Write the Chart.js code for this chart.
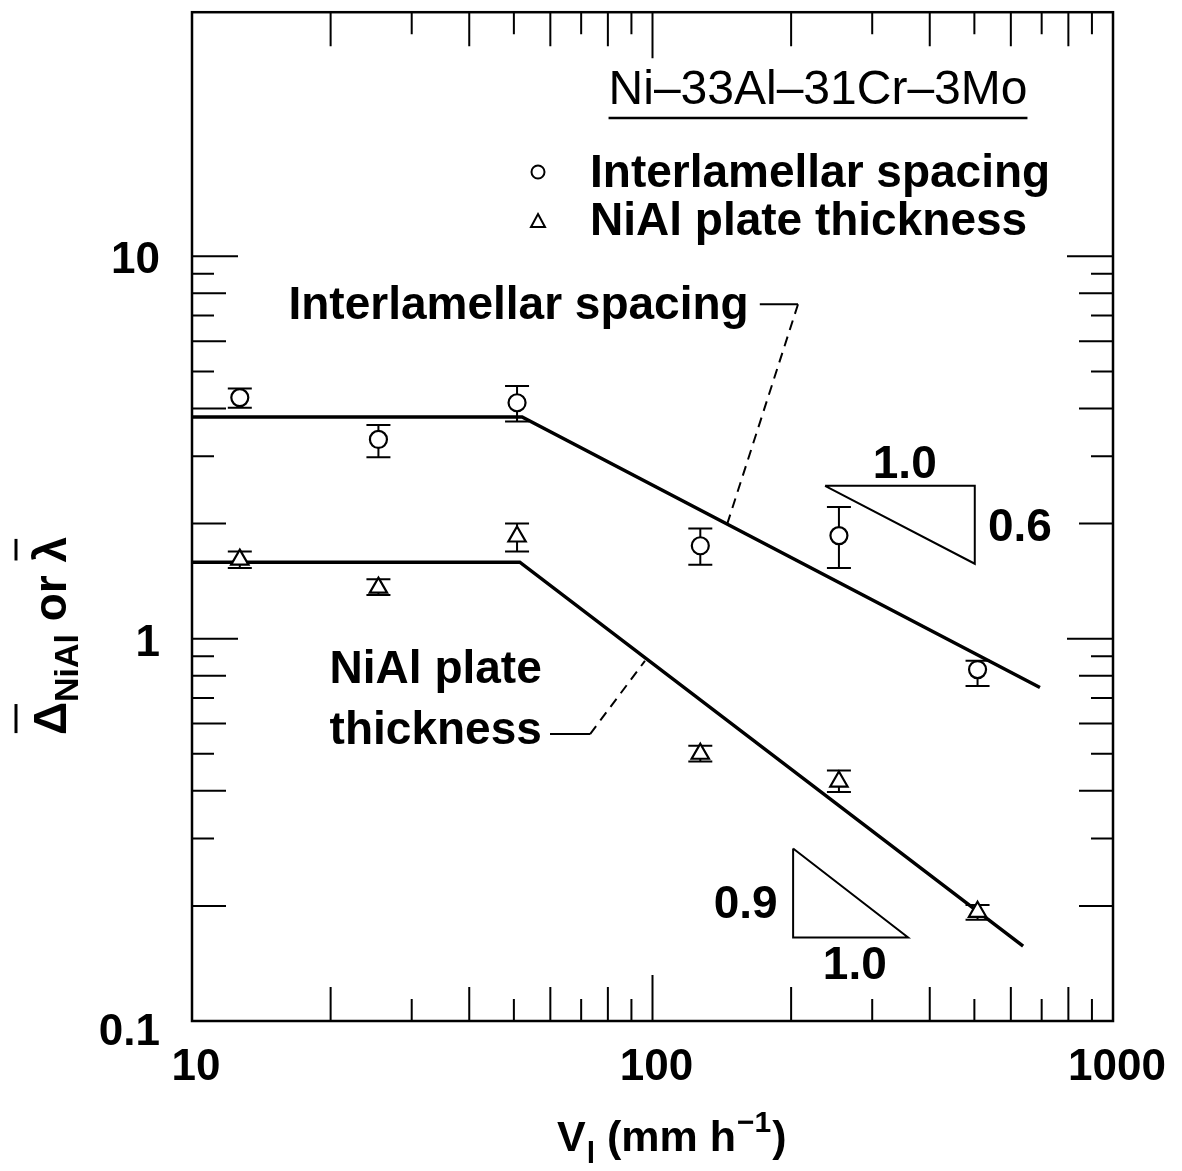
<!DOCTYPE html>
<html>
<head>
<meta charset="utf-8">
<script src="https://cdn.jsdelivr.net/npm/chart.js@4.4.1/dist/chart.umd.min.js"></script>
<style>
  html, body { margin: 0; padding: 0; background: #fff; }
  canvas { display: block; }
</style>
</head>
<body>
<canvas id="lamellaChart" width="1182" height="1171"></canvas>
<script>
// growth rate V (mm/h)
const growthRates = [12.7, 25.4, 50.8, 127, 254, 508];
// interlamellar spacing (circles) with error bar ends
const spacing   = [4.27, 3.32, 4.14, 1.75, 1.86, 0.83];
const spacingHi = [4.51, 3.62, 4.58, 1.94, 2.21, 0.875];
const spacingLo = [4.02, 2.98, 3.70, 1.56, 1.53, 0.752];
// NiAl plate thickness (triangles)
const plate   = [1.61, 1.36, 1.85, 0.500, 0.423, 0.193];
const plateHi = [1.69, 1.43, 2.00, 0.525, 0.452, 0.201];
const plateLo = [1.53, 1.30, 1.69, 0.477, 0.397, 0.184];

// fitted lines
const spacingFitX = [10, 52.1, 694];
const spacingFitY = [3.80, 3.80, 0.745];
const plateFitX = [10, 51.5, 638];
const plateFitY = [1.585, 1.585, 0.157];

// slope triangles
const slopeUpperX = [237, 501, 501, 237];
const slopeUpperY = [2.51, 2.51, 1.57, 2.51];
const slopeLowerX = [202, 202, 359, 202];
const slopeLowerY = [0.2825, 0.1653, 0.1653, 0.2825];

// leader lines from labels to fits
const leaderUpperX = [171, 207];
const leaderUpperY = [7.49, 7.49];
const leaderUpperDashX = [207, 145];
const leaderUpperDashY = [7.49, 1.98];
const leaderLowerX = [59.9, 73.2];
const leaderLowerY = [0.563, 0.563];
const leaderLowerDashX = [73.2, 96.3];
const leaderLowerDashY = [0.563, 0.875];

// axis ticks (no minor ticks above 10 in the original)
const xMajor = [10, 100, 1000];
const xTickLabels = ['10', '100', '1000'];
const xMinor = [20, 30, 40, 50, 60, 70, 80, 90, 200, 300, 400, 500, 600, 700, 800, 900];
const yMajor = [0.1, 1, 10];
const yTickLabels = ['0.1', '1', '10'];
const yMinor = [0.2, 0.3, 0.4, 0.5, 0.6, 0.7, 0.8, 0.9, 2, 3, 4, 5, 6, 7, 8, 9];

// text annotations placed in data coordinates
const notes = [
  { text: 'Interlamellar spacing', x: 16.2, y: 7.5, align: 'left' },
  { text: 'NiAl plate', x: 19.9, y: 0.835, align: 'left' },
  { text: 'thickness', x: 19.9, y: 0.578, align: 'left' },
  { text: '1.0', x: 353, y: 2.88, align: 'center' },
  { text: '0.6', x: 535, y: 1.97, align: 'left' },
  { text: '0.9', x: 187, y: 0.203, align: 'right' },
  { text: '1.0', x: 275, y: 0.141, align: 'center' }
];

const FONT = "'Liberation Sans', Arial, Helvetica, sans-serif";
const bold = s => 'bold ' + s + 'px ' + FONT;

function pts(xs, ys) { return xs.map((x, i) => ({ x: x, y: ys[i] })); }

function lineSet(xs, ys, width, dash) {
  return {
    data: pts(xs, ys), showLine: true, borderColor: '#000', borderWidth: width,
    borderDash: dash || [], pointRadius: 0, fill: false, tension: 0
  };
}

function tickLen(v) {
  const m = Math.round(v / Math.pow(10, Math.floor(Math.log10(v) + 1e-9)));
  if (m === 1) return 46;
  return m % 2 === 0 ? 34 : 22;
}

const errorBars = {
  id: 'errorBars',
  beforeDatasetsDraw(chart) {
    const ctx = chart.ctx, xs = chart.scales.x, ys = chart.scales.y;
    ctx.save();
    ctx.strokeStyle = '#000';
    ctx.lineWidth = 2;
    [[spacingLo, spacingHi], [plateLo, plateHi]].forEach(([lo, hi]) => {
      growthRates.forEach((g, i) => {
        const px = xs.getPixelForValue(g);
        const y1 = ys.getPixelForValue(lo[i]), y2 = ys.getPixelForValue(hi[i]);
        ctx.beginPath();
        ctx.moveTo(px, y1); ctx.lineTo(px, y2);
        ctx.moveTo(px - 12, y1); ctx.lineTo(px + 12, y1);
        ctx.moveTo(px - 12, y2); ctx.lineTo(px + 12, y2);
        ctx.stroke();
      });
    });
    ctx.restore();
  }
};

const frame = {
  id: 'frame',
  afterDraw(chart) {
    const ctx = chart.ctx, a = chart.chartArea;
    const xs = chart.scales.x, ys = chart.scales.y;
    ctx.save();
    ctx.strokeStyle = '#000';
    ctx.fillStyle = '#000';

    // inward ticks on all four sides
    ctx.lineWidth = 2;
    ctx.beginPath();
    xMajor.concat(xMinor).forEach(v => {
      const px = xs.getPixelForValue(v), L = tickLen(v);
      ctx.moveTo(px, a.bottom); ctx.lineTo(px, a.bottom - L);
      ctx.moveTo(px, a.top); ctx.lineTo(px, a.top + L);
    });
    yMajor.concat(yMinor).forEach(v => {
      const py = ys.getPixelForValue(v), L = tickLen(v);
      ctx.moveTo(a.left, py); ctx.lineTo(a.left + L, py);
      ctx.moveTo(a.right, py); ctx.lineTo(a.right - L, py);
    });
    ctx.stroke();

    ctx.lineWidth = 2.5;
    ctx.strokeRect(a.left, a.top, a.right - a.left, a.bottom - a.top);

    // tick labels
    ctx.font = bold(44);
    ctx.textAlign = 'center';
    ctx.textBaseline = 'middle';
    xMajor.forEach((v, i) => ctx.fillText(xTickLabels[i], xs.getPixelForValue(v) + 4, a.bottom + 47));
    ctx.textAlign = 'right';
    yMajor.forEach((v, i) => ctx.fillText(yTickLabels[i], a.left - 32, ys.getPixelForValue(v) + (i === 0 ? 12 : 5)));

    // x axis title: V_l (mm h^-1)
    let x = 557;
    const base = 1151;
    ctx.textAlign = 'left';
    ctx.textBaseline = 'alphabetic';
    ctx.font = bold(43); ctx.fillText('V', x, base); x += ctx.measureText('V').width + 1;
    ctx.font = bold(30); ctx.fillText('l', x, base + 12); x += ctx.measureText('l').width;
    ctx.font = bold(43); ctx.fillText(' (mm h', x, base); x += ctx.measureText(' (mm h').width + 1;
    ctx.font = bold(30); ctx.fillText('\u22121', x, base - 19); x += ctx.measureText('\u22121').width + 1;
    ctx.font = bold(43); ctx.fillText(')', x, base);

    // y axis title: Δ̄_NiAl or λ̄ (rotated)
    ctx.save();
    ctx.translate(66, 636);
    ctx.rotate(-Math.PI / 2);
    const parts = [
      { t: '\u0394', f: bold(46), dy: 0, bar: true },
      { t: 'NiAl', f: bold(34), dy: 12 },
      { t: ' or ', f: bold(46), dy: 0 },
      { t: '\u03bb', f: bold(46), dy: 0, bar: true }
    ];
    let total = 0;
    parts.forEach(p => { ctx.font = p.f; p.w = ctx.measureText(p.t).width; total += p.w; });
    let cx = -total / 2;
    ctx.lineWidth = 3;
    parts.forEach(p => {
      ctx.font = p.f;
      ctx.fillText(p.t, cx, p.dy);
      if (p.bar) {
        ctx.beginPath();
        ctx.moveTo(cx + 2, -50); ctx.lineTo(cx + p.w - 2, -50);
        ctx.stroke();
      }
      cx += p.w;
    });
    ctx.restore();

    // annotations in data space
    ctx.font = bold(46);
    ctx.textBaseline = 'middle';
    notes.forEach(n => {
      ctx.textAlign = n.align;
      ctx.fillText(n.text, xs.getPixelForValue(n.x), ys.getPixelForValue(n.y) + 2);
    });

    // alloy title, underlined
    ctx.font = '48px ' + FONT;
    ctx.textAlign = 'center';
    ctx.textBaseline = 'alphabetic';
    const title = 'Ni\u201333Al\u201331Cr\u20133Mo';
    ctx.fillText(title, 818, 104);
    const tw = ctx.measureText(title).width;
    ctx.lineWidth = 2.5;
    ctx.beginPath();
    ctx.moveTo(818 - tw / 2, 118); ctx.lineTo(818 + tw / 2, 118);
    ctx.stroke();

    // key
    ctx.lineWidth = 2;
    ctx.beginPath();
    ctx.arc(538, 172, 6.5, 0, Math.PI * 2);
    ctx.stroke();
    ctx.beginPath();
    ctx.moveTo(538, 214); ctx.lineTo(545, 227); ctx.lineTo(531, 227); ctx.closePath();
    ctx.stroke();
    ctx.font = bold(46);
    ctx.textAlign = 'left';
    ctx.textBaseline = 'middle';
    ctx.fillText('Interlamellar spacing', 590, 174);
    ctx.fillText('NiAl plate thickness', 590, 222);

    ctx.restore();
  }
};

new Chart(document.getElementById('lamellaChart').getContext('2d'), {
  type: 'scatter',
  data: {
    datasets: [
      {
        label: 'Interlamellar spacing', data: pts(growthRates, spacing),
        pointStyle: 'circle', pointRadius: 8.5, borderWidth: 2.2,
        borderColor: '#000', backgroundColor: '#fff'
      },
      {
        label: 'NiAl plate thickness', data: pts(growthRates, plate),
        pointStyle: 'triangle', pointRadius: 10, borderWidth: 2.2,
        borderColor: '#000', backgroundColor: '#fff'
      },
      lineSet(spacingFitX, spacingFitY, 3.5),
      lineSet(plateFitX, plateFitY, 3.5),
      lineSet(slopeUpperX, slopeUpperY, 2),
      lineSet(slopeLowerX, slopeLowerY, 2),
      lineSet(leaderUpperX, leaderUpperY, 2),
      lineSet(leaderUpperDashX, leaderUpperDashY, 2, [10, 7]),
      lineSet(leaderLowerX, leaderLowerY, 2),
      lineSet(leaderLowerDashX, leaderLowerDashY, 2, [10, 7])
    ]
  },
  options: {
    responsive: false,
    animation: false,
    layout: { padding: { left: 192, right: 69, top: 12, bottom: 150 } },
    scales: {
      x: { type: 'logarithmic', min: 10, max: 1000, display: false },
      y: { type: 'logarithmic', min: 0.1, max: 43.5, display: false }
    },
    plugins: { legend: { display: false }, tooltip: { enabled: false } }
  },
  plugins: [errorBars, frame]
});
</script>
</body>
</html>
